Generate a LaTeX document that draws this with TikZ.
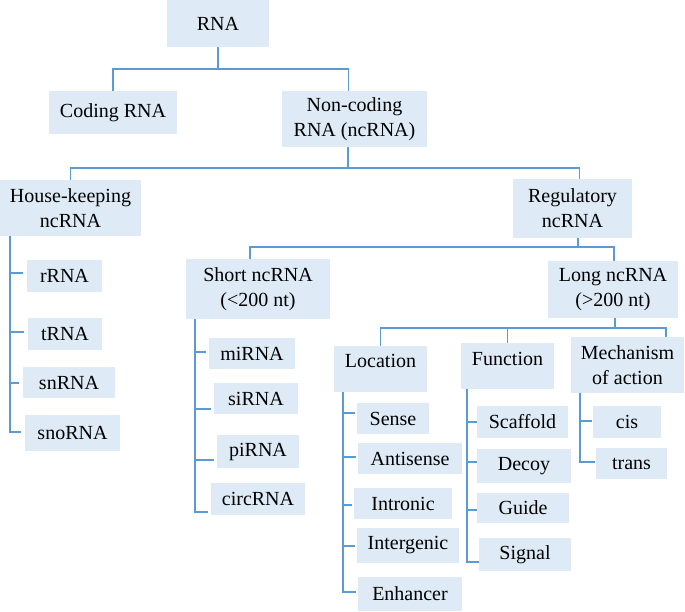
\documentclass[tikz,border=0pt]{standalone}
\usepackage{fontspec}
\setmainfont{Liberation Serif}
\definecolor{boxfill}{HTML}{DEEBF7}
\definecolor{linkblue}{HTML}{5B9BD5}

\begin{document}
\begin{tikzpicture}[x=1pt,y=-1pt,
    box/.style={fill=boxfill, align=center, inner sep=0pt, font=\fontsize{20}{25}\selectfont},
    link/.style={draw=linkblue, line width=1.3pt}]
    \useasboundingbox (0,0) rectangle (685,611);
    \node[box, minimum width=102pt, minimum height=47pt] (rna) at (218,23.5) {RNA};
    \node[box, minimum width=128pt, minimum height=43pt] (coding) at (113,112.5) {Coding RNA};
    \node[box, minimum width=145pt, minimum height=56pt] (noncoding) at (354.5,119) {Non-coding\\RNA (ncRNA)};
    \node[box, minimum width=141pt, minimum height=56pt] (hk) at (70.5,208) {House-keeping\\ncRNA};
    \node[box, minimum width=119pt, minimum height=59pt] (reg) at (572.5,208.5) {Regulatory\\ncRNA};
    \node[box, minimum width=75pt, minimum height=32pt] (rrna) at (64.5,276) {rRNA};
    \node[box, minimum width=74pt, minimum height=32pt] (trna) at (65,334) {tRNA};
    \node[box, minimum width=92pt, minimum height=31pt] (snrna) at (69,382.5) {snRNA};
    \node[box, minimum width=95pt, minimum height=36pt] (snorna) at (72.5,433) {snoRNA};
    \node[box, minimum width=144pt, minimum height=60pt] (short) at (258,289) {Short ncRNA\\(<200 nt)};
    \node[box, minimum width=130pt, minimum height=57pt] (long) at (613,289.5) {Long ncRNA\\(>200 nt)};
    \node[box, minimum width=86pt, minimum height=31pt] (mirna) at (252,353.5) {miRNA};
    \node[box, minimum width=84pt, minimum height=31pt] (sirna) at (256,398.5) {siRNA};
    \node[box, minimum width=82pt, minimum height=33pt] (pirna) at (258,451.5) {piRNA};
    \node[box, minimum width=94pt, minimum height=32pt] (circrna) at (258,499) {circRNA};
    \node[box, minimum width=93pt, minimum height=46pt, text depth=17pt] (loc) at (380.5,369) {Location};
    \node[box, minimum width=93pt, minimum height=46pt, text depth=14pt] (func) at (507.5,366) {Function};
    \node[box, minimum width=113pt, minimum height=56pt] (mech) at (627.5,365) {Mechanism\\of action};
    \node[box, minimum width=72pt, minimum height=31pt] (sense) at (393,418.5) {Sense};
    \node[box, minimum width=104pt, minimum height=31pt] (antisense) at (410,458.5) {Antisense};
    \node[box, minimum width=98pt, minimum height=31pt] (intronic) at (403,503.5) {Intronic};
    \node[box, minimum width=102pt, minimum height=35pt] (intergenic) at (408,545.5) {Intergenic};
    \node[box, minimum width=104pt, minimum height=34pt] (enhancer) at (410,594) {Enhancer};
    \node[box, minimum width=91pt, minimum height=32pt] (scaffold) at (522.5,422) {Scaffold};
    \node[box, minimum width=94pt, minimum height=34pt] (decoy) at (524,466) {Decoy};
    \node[box, minimum width=92pt, minimum height=30pt] (guide) at (523,508) {Guide};
    \node[box, minimum width=92pt, minimum height=33pt] (signal) at (525,554.5) {Signal};
    \node[box, minimum width=68pt, minimum height=32pt] (cis) at (627,422) {cis};
    \node[box, minimum width=71pt, minimum height=31pt] (trans) at (631.5,463.5) {trans};

    \coordinate (j1) at (218,69);
    \coordinate (j2) at (348,168);
    \coordinate (j3) at (578,247);
    \coordinate (j4) at (615,328);
    \draw[link] (rna) -- (j1);
    \draw[link] (coding) |- (j1) -| ([xshift=-6pt]noncoding.north);
    \draw[link] (noncoding.south -| j2) -- (j2);
    \draw[link] (hk) |- (j2) -| ([xshift=7pt]reg.north);
    \draw[link] (reg.south -| j3) -- (j3);
    \draw[link] ([xshift=-8pt]short.north) |- (j3) -| ([xshift=1pt]long.north);
    \draw[link] (long.south -| j4) -- (j4);
    \draw[link] (loc) |- (j4) -| (mech.north -| 666,0);
    \draw[link] (func) -- (func.north |- j4);
    \foreach \c/\y in {rrna/273, trna/332, snrna/383, snorna/432}
        \draw[link] (hk.south -| 10,0) |- ([xshift=-4pt]\c.west |- 0,\y);
    \foreach \c/\y in {mirna/352, sirna/409, pirna/460, circrna/512}
        \draw[link] (short.south -| 195,0) |- ([xshift=-3pt]\c.west |- 0,\y);
    \foreach \c/\y in {sense/413, antisense/457, intronic/505, intergenic/546, enhancer/592}
        \draw[link] (loc.south -| 343,0) |- ([xshift=-2pt]\c.west |- 0,\y);
    \foreach \c/\y in {scaffold/422, decoy/462, guide/510, signal/562}
        \draw[link] (func.south -| 467,0) |- (\c.west |- 0,\y);
    \foreach \c/\y in {cis/421, trans/462}
        \draw[link] (mech.south -| 580,0) |- ([xshift=-1pt]\c.west |- 0,\y);
\end{tikzpicture}
\end{document}
